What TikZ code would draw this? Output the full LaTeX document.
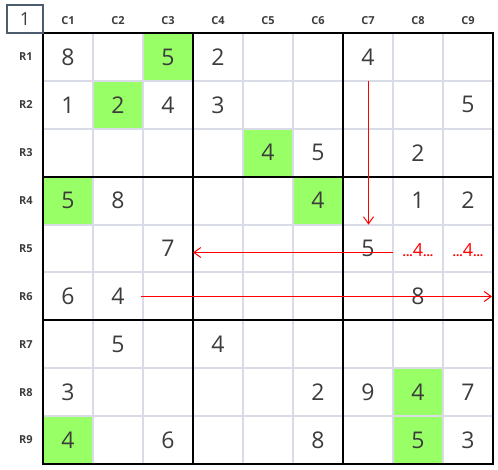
\documentclass[tikz,border=0pt]{standalone}
\usepackage{fontspec}
\setmainfont{Open Sans}
\usepackage{xcolor}
\usetikzlibrary{arrows.meta}
\definecolor{cellgreen}{HTML}{99FF66}
\definecolor{gridgray}{HTML}{D9DCE6}
\definecolor{digitgray}{HTML}{3C3C3C}
\definecolor{boxslate}{HTML}{4D5B6E}
\newcommand{\candfour}{{\fontsize{12}{12}\selectfont\bfseries ...}4{\fontsize{12}{12}\selectfont\bfseries ...}}
\tikzset{ given/.style = {text=digitgray, font=\fontsize{23}{23}\selectfont, inner sep=0pt} }
\tikzset{ head/.style = {text=digitgray, font=\fontsize{11}{11}\selectfont\bfseries, inner sep=0pt} }
\tikzset{ cand/.style = {text=red, font=\fontsize{18}{18}\selectfont, inner sep=0pt} }
\tikzset{ chain/.style = {red, line width=1pt, -{Straight Barb[length=7pt,width=10pt]}} }

\begin{document}
\begin{tikzpicture}[x=1pt,y=-1pt]
  \useasboundingbox (0,0) rectangle (498,470);
  % green cells
  \foreach \r/\c in {1/3,2/2,3/5,4/1,4/6,8/8,9/1,9/8}
    \fill[cellgreen] ({43+50*(\c-1)},{33+47.89*(\r-1)}) rectangle ++(50,47.89);
  % thin lines
  \foreach \k in {1,2,4,5,7,8} {
    \draw[gridgray, line width=2pt] ({43+50*\k},33) -- ({43+50*\k},464);
    \draw[gridgray, line width=2pt] (43,{33+47.89*\k}) -- (493,{33+47.89*\k});
  }
  % block lines
  \foreach \k in {0,3,6,9} {
    \draw[black, line width=2pt, line cap=rect] ({43+50*\k},33) -- ({43+50*\k},464);
    \draw[black, line width=2pt, line cap=rect] (43,{33+47.89*\k}) -- (493,{33+47.89*\k});
  }
  \node [draw=boxslate, line width=2pt, minimum width=36, minimum height=28, inner sep=0pt,
         text=digitgray, font=\fontsize{18}{18}\selectfont] (corner) at (25,19) {1};
  % headers
  \foreach \k in {1,...,9} {
    \node [style=head] (col\k) at ({18+50*\k},21) {C\k};
    \node [style=head] (row\k) at (26,{33+47.89*(\k-0.5)}) {R\k};
  }
  % givens
  \foreach \r/\c/\v in {1/1/8,1/3/5,1/4/2,1/7/4,
                        2/1/1,2/2/2,2/3/4,2/4/3,2/9/5,
                        3/5/4,3/6/5,3/8/2,
                        4/1/5,4/2/8,4/6/4,4/8/1,4/9/2,
                        5/3/7,5/7/5,
                        6/1/6,6/2/4,6/8/8,
                        7/2/5,7/4/4,
                        8/1/3,8/6/2,8/7/9,8/8/4,8/9/7,
                        9/1/4,9/3/6,9/6/8,9/8/5,9/9/3}
    \node [style=given] (d\r\c) at ({18+50*\c},{33+47.89*(\r-0.5)}) {\v};
  \node [style=cand] (c58) at (418,250) {\candfour};
  \node [style=cand] (c59) at (468,250) {\candfour};
  % chains
  \coordinate (p1) at (368.5,81);
  \coordinate (q1) at (368.5,224.6);
  \coordinate (p2) at (393,252.5);
  \coordinate (q2) at (193,252.5);
  \coordinate (p3) at (141,296.5);
  \coordinate (q3) at (492,296.5);
  \draw[style=chain] (p1) -- (q1);
  \draw[style=chain] (p2) -- (q2);
  \draw[style=chain] (p3) -- (q3);
\end{tikzpicture}
\end{document}
